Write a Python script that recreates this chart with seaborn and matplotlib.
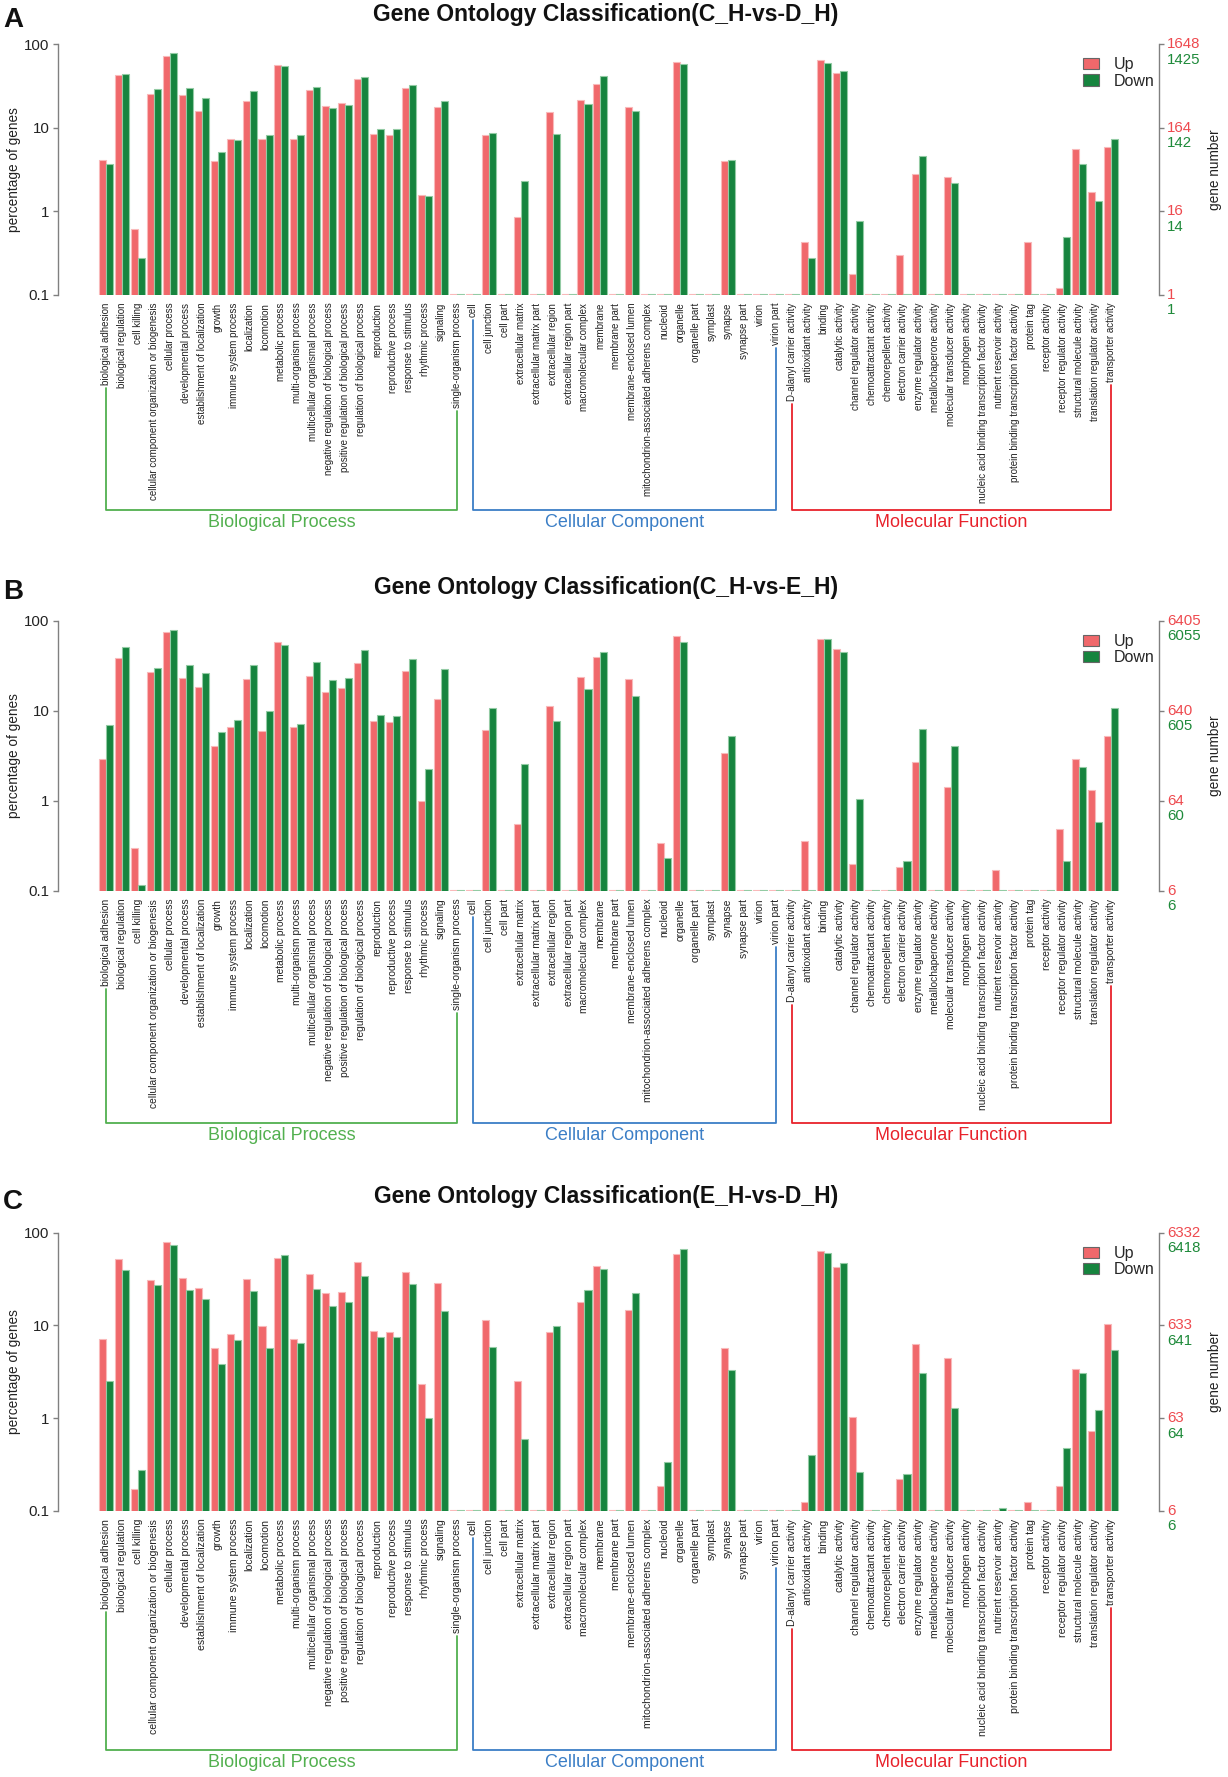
import numpy as np
import pandas as pd
import matplotlib
matplotlib.use("Agg")
import matplotlib.pyplot as plt
import matplotlib.transforms as mtransforms
from matplotlib.ticker import FixedLocator, NullLocator
import seaborn as sns

# GO terms, in the order they appear on the x axis
bp_terms = ["biological adhesion", "biological regulation", "cell killing",
            "cellular component organization or biogenesis", "cellular process",
            "developmental process", "establishment of localization", "growth",
            "immune system process", "localization", "locomotion", "metabolic process",
            "multi-organism process", "multicellular organismal process",
            "negative regulation of biological process",
            "positive regulation of biological process",
            "regulation of biological process", "reproduction", "reproductive process",
            "response to stimulus", "rhythmic process", "signaling",
            "single-organism process"]
cc_terms = ["cell", "cell junction", "cell part", "extracellular matrix",
            "extracellular matrix part", "extracellular region",
            "extracellular region part", "macromolecular complex", "membrane",
            "membrane part", "membrane-enclosed lumen",
            "mitochondrion-associated adherens complex", "nucleoid", "organelle",
            "organelle part", "symplast", "synapse", "synapse part", "virion",
            "virion part"]
mf_terms = ["D-alanyl carrier activity", "antioxidant activity", "binding",
            "catalytic activity", "channel regulator activity",
            "chemoattractant activity", "chemorepellent activity",
            "electron carrier activity", "enzyme regulator activity",
            "metallochaperone activity", "molecular transducer activity",
            "morphogen activity", "nucleic acid binding transcription factor activity",
            "nutrient reservoir activity",
            "protein binding transcription factor activity", "protein tag",
            "receptor activity", "receptor regulator activity",
            "structural molecule activity", "translation regulator activity",
            "transporter activity"]

# percentage of genes, panel A (C_H-vs-D_H)
a_up = [4.1, 43, 0.61, 25, 71, 24.5, 16, 4.0, 7.3, 20.6, 7.3, 56, 7.3, 28, 18.2, 19.7, 38, 8.3, 8.2, 30, 1.57, 17.7, 0,
        0, 8.1, 0, 0.86, 0, 15.2, 0, 21.6, 33, 0, 17.5, 0, 0, 61, 0, 0, 4.0, 0, 0, 0,
        0, 0.43, 64, 45, 0.18, 0, 0, 0.30, 2.8, 0, 2.6, 0, 0, 0, 0, 0.43, 0, 0.12, 5.5, 1.69, 5.8]
a_down = [3.7, 44, 0.28, 29, 77, 30, 22.4, 5.1, 7.1, 27.7, 8.1, 54, 8.2, 31, 17.2, 18.7, 40, 9.6, 9.6, 32, 1.54, 20.6, 0,
          0, 8.6, 0, 2.3, 0, 8.4, 0, 19.4, 41, 0, 16, 0, 0, 58, 0, 0, 4.1, 0, 0, 0,
          0, 0.28, 59, 48, 0.77, 0, 0, 0, 4.6, 0, 2.2, 0, 0, 0, 0, 0, 0, 0.49, 3.65, 1.33, 7.4]

# panel B (C_H-vs-E_H)
b_up = [2.94, 39, 0.30, 27, 74, 23.4, 18.4, 4.07, 6.6, 22.6, 5.9, 57.5, 6.6, 24.3, 16, 17.9, 34, 7.7, 7.6, 27.4, 0.99, 13.6, 0,
        0, 6.1, 0, 0.55, 0, 11.2, 0, 23.9, 39.5, 0, 22.6, 0, 0.345, 67.6, 0, 0, 3.44, 0, 0, 0,
        0, 0.36, 62, 48, 0.20, 0, 0, 0.187, 2.69, 0, 1.43, 0, 0, 0.172, 0, 0, 0, 0.485, 2.94, 1.32, 5.3]
b_down = [7.0, 51.5, 0.116, 30, 79, 32.5, 26, 5.8, 7.9, 32, 10, 54, 7.1, 35, 22, 22.9, 47, 8.9, 8.8, 37.6, 2.26, 28.8, 0,
          0, 10.7, 0, 2.6, 0, 7.7, 0, 17.6, 44.6, 0, 14.6, 0, 0.233, 58.5, 0, 0, 5.3, 0, 0, 0,
          0, 0, 63, 45, 1.04, 0, 0, 0.216, 6.3, 0, 4.1, 0, 0, 0, 0, 0, 0, 0.216, 2.36, 0.58, 10.7]

# panel C (E_H-vs-D_H)
c_up = [7.1, 52.5, 0.172, 30.6, 78.7, 32.2, 25.4, 5.75, 8.1, 31.4, 9.9, 53.3, 7.1, 35.6, 22.4, 23.1, 47.9, 8.8, 8.6, 37.3, 2.34, 28.9, 0,
        0, 11.4, 0, 2.5, 0, 8.4, 0, 18, 43.7, 0, 14.6, 0, 0.187, 58.4, 0, 0, 5.75, 0, 0, 0,
        0, 0.126, 64, 43, 1.04, 0, 0, 0.22, 6.35, 0, 4.46, 0, 0, 0, 0, 0.126, 0, 0.187, 3.36, 0.73, 10.5]
c_down = [2.54, 39.3, 0.279, 27.5, 74.3, 23.9, 19.1, 3.84, 6.9, 23.7, 5.75, 57, 6.4, 24.7, 16.2, 17.9, 34.1, 7.6, 7.6, 27.7, 1.0, 14.2, 0,
          0, 5.86, 0, 0.60, 0, 9.9, 0, 24.1, 40.3, 0, 22.5, 0, 0.34, 67.3, 0, 0, 3.33, 0, 0, 0,
          0, 0.40, 61, 47.5, 0.263, 0, 0, 0.248, 3.05, 0, 1.3, 0, 0, 0.109, 0, 0, 0, 0.48, 3.07, 1.24, 5.5]

# total gene numbers (right axis, 100 %)
up_totals = [1648, 6405, 6332]
down_totals = [1425, 6055, 6418]

comparisons = ["C_H-vs-D_H", "C_H-vs-E_H", "E_H-vs-D_H"]
letters = ["A", "B", "C"]

UP_COLOR = "#F0686B"
DOWN_COLOR = "#16843E"
UP_EDGE = "#F9B9BA"
DOWN_EDGE = "#93CBA4"
UP_TXT = "#EE4A4F"
DOWN_TXT = "#1E8A3A"
GROUP_COLORS = ["#52B04F", "#3B7EC6", "#E8222B"]
GROUP_NAMES = ["Biological Process", "Cellular Component", "Molecular Function"]
AX_GRAY = "#808080"

sns.set_theme(style="white")
plt.rcParams["font.family"] = ["Liberation Sans", "DejaVu Sans"]

W, H = 1228, 1777
fig = plt.figure(figsize=(W / 100, H / 100), dpi=100)

# panel boxes in pixels: (top, bottom) of the plotting area
panel_px = [(44, 295), (620.7, 891), (1232.7, 1511)]
title_y = [15, 587, 1197]
label_sizes = [7.0, 7.4, 7.6]
AX_LEFT, AX_RIGHT = 58, 1159


def draw_panel(ax, k, up, down):
    terms = bp_terms + cc_terms + mf_terms
    df = pd.DataFrame({
        "term": terms * 2,
        "pct": list(up) + list(down),
        "direction": ["Up"] * len(terms) + ["Down"] * len(terms),
    })
    # zero counts are shown as a sliver on the floor of the log axis
    df["shown"] = df["pct"].clip(lower=0.102)

    sns.barplot(data=df, x="term", y="shown", hue="direction", order=terms,
                hue_order=["Up", "Down"],
                palette={"Up": UP_COLOR, "Down": DOWN_COLOR}, saturation=1,
                width=0.88, errorbar=None, ax=ax, legend=True)
    for p in ax.patches:
        fc = matplotlib.colors.to_hex(p.get_facecolor())
        p.set_edgecolor(UP_EDGE if fc.lower() == UP_COLOR.lower() else DOWN_EDGE)
        p.set_linewidth(0.8)

    ax.set_yscale("log")
    ax.set_ylim(0.1, 100)
    ax.set_xlim(-3.01, 66.02)
    ax.yaxis.set_major_locator(FixedLocator([0.1, 1, 10, 100]))
    ax.yaxis.set_minor_locator(NullLocator())
    ax.set_yticklabels(["0.1", "1", "10", "100"])
    ax.set_xlabel("")
    ax.set_ylabel("percentage of genes", fontsize=9.8, color="#222222")
    ax.yaxis.set_label_coords(-0.034, 0.5)

    for s in ["top", "bottom"]:
        ax.spines[s].set_visible(False)
    for s in ["left", "right"]:
        ax.spines[s].set_color(AX_GRAY)
        ax.spines[s].set_linewidth(1.0)
    ax.tick_params(axis="y", which="major", direction="out", length=3.6, width=1.0,
                   color=AX_GRAY, left=True, right=True, labelright=False,
                   labelsize=10.8, labelcolor="#222222", pad=2.5)
    ax.tick_params(axis="x", length=0, pad=5.5, labelsize=label_sizes[k],
                   labelcolor="#222222")
    plt.setp(ax.get_xticklabels(), rotation=90, ha="center", va="top")

    # right axis: gene numbers for up (red) and down (green)
    trans = ax.get_yaxis_transform()
    trans_down = mtransforms.offset_copy(trans, fig=fig, y=-15.5, units="dots")
    for t in [0.1, 1, 10, 100]:
        ax.text(1.0073, t, str(int(up_totals[k] * t / 100)), transform=trans,
                color=UP_TXT, fontsize=10.8, ha="left", va="center")
        ax.text(1.0073, t, str(int(down_totals[k] * t / 100)), transform=trans_down,
                color=DOWN_TXT, fontsize=10.8, ha="left", va="center")
    ax.text(1.0509, 0.5, "gene number", transform=ax.transAxes, rotation=90,
            ha="center", va="center", fontsize=9.8, color="#222222")

    leg_y = 1 - 13 / ax.bbox.height
    sns.move_legend(ax, "upper left", bbox_to_anchor=(0.931, leg_y), title=None,
                    frameon=False, fontsize=11.5, handlelength=1.0,
                    handleheight=0.7, handletextpad=0.9, labelspacing=0.1,
                    borderaxespad=0, borderpad=0)
    for h in ax.get_legend().legend_handles:
        h.set_edgecolor("#666666")
        h.set_linewidth(0.8)


axes = []
panel_data = [(a_up, a_down), (b_up, b_down), (c_up, c_down)]
for k, (up, down) in enumerate(panel_data):
    top, bottom = panel_px[k]
    ax = fig.add_axes([AX_LEFT / W, 1 - bottom / H, (AX_RIGHT - AX_LEFT) / W, (bottom - top) / H])
    draw_panel(ax, k, up, down)
    fig.text(606 / W, 1 - title_y[k] / H,
             "Gene Ontology Classification(%s)" % comparisons[k],
             ha="center", va="center", fontsize=16.5, fontweight="bold", color="#111111")
    fig.text(13 / W, 1 - (title_y[k] + 5) / H, letters[k], ha="center", va="center",
             fontsize=20, fontweight="bold", color="#111111")
    axes.append(ax)

# brackets under the labels of each GO domain
fig.canvas.draw()
renderer = fig.canvas.get_renderer()
n_bp, n_cc, n_mf = len(bp_terms), len(cc_terms), len(mf_terms)
groups = [(0, n_bp - 1), (n_bp, n_bp + n_cc - 1), (n_bp + n_cc, n_bp + n_cc + n_mf - 1)]
for ax in axes:
    labels = ax.get_xticklabels()
    ticks = ax.get_xticks()
    inv = ax.transAxes.inverted()
    gap = 3 / ax.bbox.height
    xtrans = ax.get_xaxis_transform()
    y_b = -0.857

    def label_end(i):
        bb = labels[i].get_window_extent(renderer)
        return inv.transform((0, bb.y0))[1] - gap

    for g, (i0, i1) in enumerate(groups):
        x0, x1 = ticks[i0], ticks[i1]
        ax.plot([x0, x0, x1, x1], [label_end(i0), y_b, y_b, label_end(i1)],
                color=GROUP_COLORS[g], lw=1.3, transform=xtrans, clip_on=False)
        ax.text((x0 + x1) / 2, -0.905, GROUP_NAMES[g], color=GROUP_COLORS[g],
                fontsize=13, ha="center", va="center", transform=xtrans)

fig.savefig("out.png", dpi=100)
